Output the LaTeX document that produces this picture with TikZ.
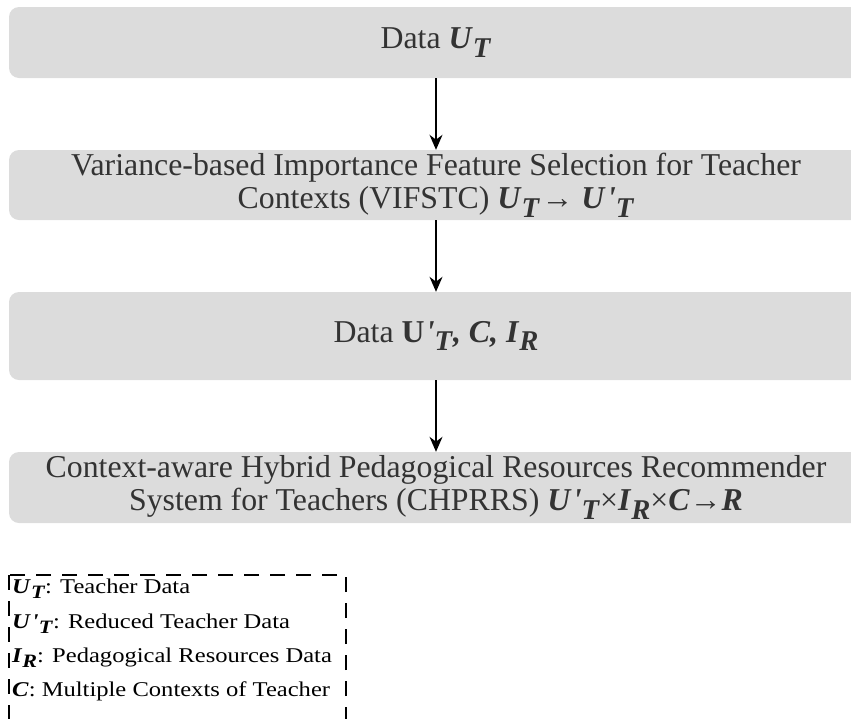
\documentclass[tikz,border=0pt]{standalone}
\usepackage{fontspec}
\usepackage{graphicx}
\setmainfont{Liberation Serif}
\usetikzlibrary{arrows.meta}
\definecolor{boxgray}{HTML}{DCDCDC}
\definecolor{txtgray}{HTML}{333333}
\newcommand\bi[1]{\textbf{\textit{#1}}}
\newcommand\pr{\textbf{\textit{\kern0.04em\textquotesingle}}}
\newcommand\sbs[1]{\raisebox{-0.28em}{\scalebox{0.9}{\textbf{\textit{#1}}}}}
\tikzset{
  box/.style={rectangle, rounded corners=10pt, fill=boxgray, draw=none,
    minimum width=854pt, inner sep=0pt, align=center, text=txtgray,
    font=\fontsize{31.8}{33}\selectfont},
  arr/.style={-{Stealth[length=15pt,width=13pt]}, line width=1.6pt, black},
  legtext/.style={anchor=base west, inner sep=0pt, font=\fontsize{21}{24}\selectfont, text=black},
  legframe/.style={dash pattern=on 15pt off 11pt, line width=1.4pt}
}
\begin{document}
\begin{tikzpicture}[x=1pt,y=-1pt]
\useasboundingbox (0,0) rectangle (851,718);
\node[box, minimum height=71pt] (b1) at (436,42.5) {Data \bi{U}\sbs{T}};
\node[box, minimum height=70pt] (b2) at (436,185) {Variance-based Importance Feature Selection for Teacher\\Contexts (VIFSTC) \bi{U}\sbs{T}\kern0.05em→ \bi{U}\pr\sbs{T}};
\node[box, minimum height=88pt] (b3) at (436,336) {Data \textbf{U}\pr\sbs{T}\bi{, C, I}\sbs{R}};
\node[box, minimum height=71pt] (b4) at (436,487.5) {Context-aware Hybrid Pedagogical Resources Recommender\\System for Teachers (CHPRRS) \bi{U}\pr\sbs{T}×\bi{I}\sbs{R}×\bi{C}→\bi{R}};
\draw[arr] (b1) -- (b2);
\draw[arr] (b2) -- (b3);
\draw[arr] (b3) -- (b4);
\draw[legframe] (9,575) rectangle (346,740);
\node[legtext] (l1) at (12,593) {\scalebox{1.17}[1]{\bi{U}\sbs{T}: Teacher Data}};
\node[legtext] (l2) at (12,628) {\scalebox{1.17}[1]{\bi{U}\pr\sbs{T}: Reduced Teacher Data}};
\node[legtext] (l3) at (12,662) {\scalebox{1.17}[1]{\bi{I}\sbs{R}: Pedagogical Resources Data}};
\node[legtext] (l4) at (12,696) {\scalebox{1.17}[1]{\bi{C}: Multiple Contexts of Teacher}};
\end{tikzpicture}
\end{document}
